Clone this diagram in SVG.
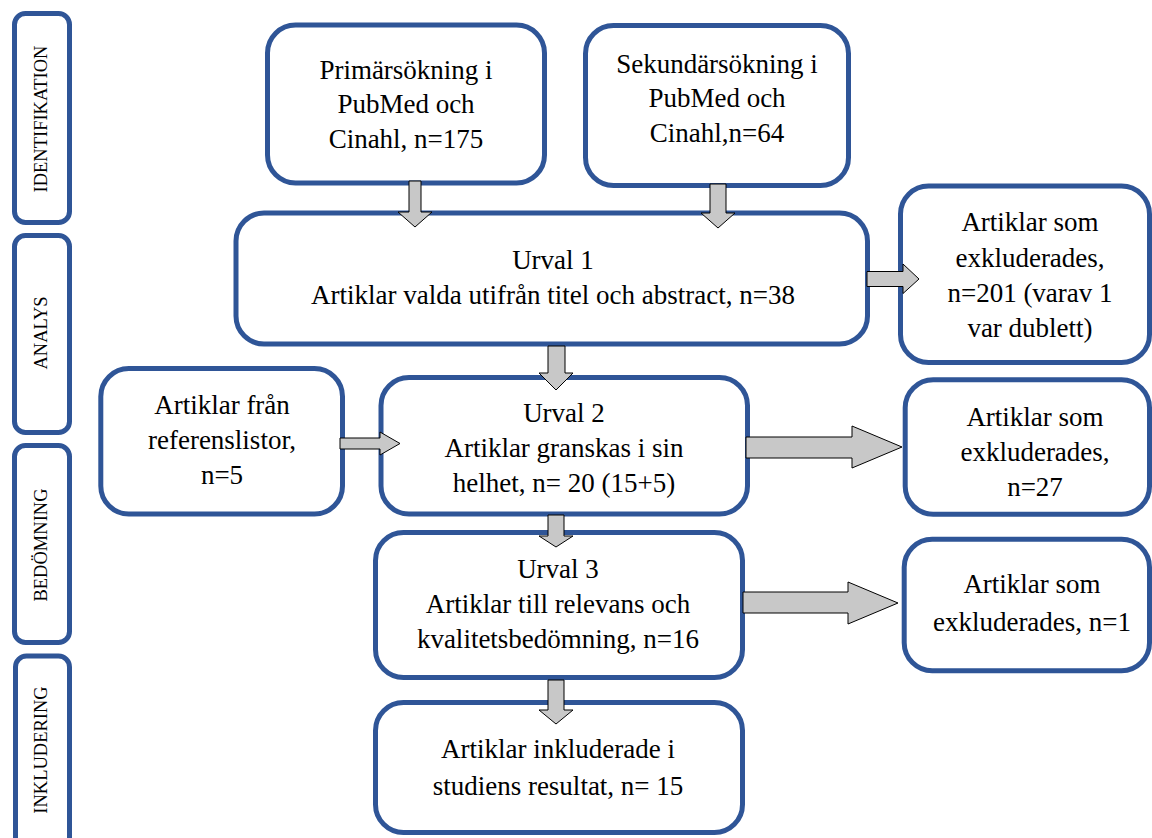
<svg xmlns="http://www.w3.org/2000/svg" width="1152" height="838" viewBox="0 0 1152 838">
<style>
.box{fill:#fff;stroke:#2F5597;stroke-width:5}
.t{font-family:"Liberation Serif","Times New Roman",serif;font-size:27px;fill:#000;text-anchor:middle}
.s{font-family:"Liberation Serif","Times New Roman",serif;font-size:18.5px;fill:#000;text-anchor:middle}
.arr{fill:#C8C8C8;stroke:#000;stroke-width:1}
</style>
<rect width="1152" height="838" fill="#fff"/>
<g id="phase-identifikation"><rect class="box" x="14.5" y="13.5" width="55" height="209" rx="11"/><text class="s" transform="translate(47,119) rotate(-90)">IDENTIFIKATION</text></g>
<g id="phase-analys"><rect class="box" x="14.5" y="235.5" width="55" height="197" rx="11"/><text class="s" transform="translate(47,333) rotate(-90)">ANALYS</text></g>
<g id="phase-bedomning"><rect class="box" x="14.5" y="445.5" width="55" height="197" rx="11"/><text class="s" transform="translate(47,545) rotate(-90)">BEDÖMNING</text></g>
<g id="phase-inkludering"><rect class="box" x="15.5" y="656" width="54" height="200" rx="11"/><text class="s" transform="translate(47,750) rotate(-90)">INKLUDERING</text></g>

<g id="primar"><rect class="box" x="267.5" y="25" width="277" height="158" rx="28"/>
<text class="t" x="406" y="79">Primärsökning i</text><text class="t" x="406" y="113">PubMed och</text><text class="t" x="406" y="147.5">Cinahl, n=175</text></g>
<g id="sekundar"><rect class="box" x="585.5" y="25.5" width="263" height="160" rx="28"/>
<text class="t" x="717" y="73">Sekundärsökning i</text><text class="t" x="717" y="107">PubMed och</text><text class="t" x="717" y="141.5">Cinahl,n=64</text></g>
<g id="urval1"><rect class="box" x="236" y="213" width="631.5" height="131" rx="28"/>
<text class="t" x="553" y="269">Urval 1</text><text class="t" x="553" y="304">Artiklar valda utifrån titel och abstract, n=38</text></g>
<g id="exkl1"><rect class="box" x="900.5" y="186" width="249" height="176.5" rx="28"/>
<text class="t" x="1030" y="231">Artiklar som</text><text class="t" x="1030" y="267">exkluderades,</text><text class="t" x="1030" y="302">n=201 (varav 1</text><text class="t" x="1030" y="337">var dublett)</text></g>
<g id="referens"><rect class="box" x="100.8" y="368.5" width="241.7" height="145.5" rx="28"/>
<text class="t" x="222" y="414">Artiklar från</text><text class="t" x="222" y="449">referenslistor,</text><text class="t" x="222" y="484">n=5</text></g>
<g id="urval2"><rect class="box" x="381" y="377.5" width="366.5" height="136.5" rx="28"/>
<text class="t" x="564" y="421.5">Urval 2</text><text class="t" x="564" y="456.5">Artiklar granskas i sin</text><text class="t" x="564" y="492">helhet, n= 20 (15+5)</text></g>
<g id="exkl2"><rect class="box" x="905.2" y="379.8" width="244.3" height="134.4" rx="28"/>
<text class="t" x="1035" y="425.5">Artiklar som</text><text class="t" x="1035" y="461">exkluderades,</text><text class="t" x="1035" y="495.5">n=27</text></g>
<g id="urval3"><rect class="box" x="375.5" y="532.5" width="367" height="145" rx="28"/>
<text class="t" x="558" y="577.5">Urval 3</text><text class="t" x="558" y="612.5">Artiklar till relevans och</text><text class="t" x="558" y="648">kvalitetsbedömning, n=16</text></g>
<g id="exkl3"><rect class="box" x="904.2" y="539.2" width="245.3" height="131.6" rx="28"/>
<text class="t" x="1032" y="592.5">Artiklar som</text><text class="t" x="1032" y="630.5">exkluderades, n=1</text></g>
<g id="inkluderade"><rect class="box" x="375.5" y="702.5" width="367" height="130" rx="28"/>
<text class="t" x="558" y="758">Artiklar inkluderade i</text><text class="t" x="558" y="794.5">studiens resultat, n= 15</text></g>

<g id="connectors">
<polygon class="arr" points="409,181 421,181 421,212 432,212 415,227 398,212 409,212"/>
<polygon class="arr" points="710,184 726,184 726,213 735,213 718,228 701,213 710,213"/>
<polygon class="arr" points="867,271.5 903,271.5 903,264 919,279 903,293.5 903,286.5 867,286.5"/>
<polygon class="arr" points="548,346 565,346 565,373 573,373 556,390 539,373 548,373"/>
<polygon class="arr" points="340,438 380,438 380,432 400,443.5 380,455 380,449 340,449"/>
<polygon class="arr" points="746,437 852,437 852,426 902,447 852,468 852,458 746,458"/>
<polygon class="arr" points="548,515 564,515 564,536 573,536 556,547 539,536 548,536"/>
<polygon class="arr" points="743,592 848,592 848,582 898,603 848,624 848,613 743,613"/>
<polygon class="arr" points="548,680 564,680 564,710 573,710 556,724 539,710 548,710"/>
</g>
</svg>
